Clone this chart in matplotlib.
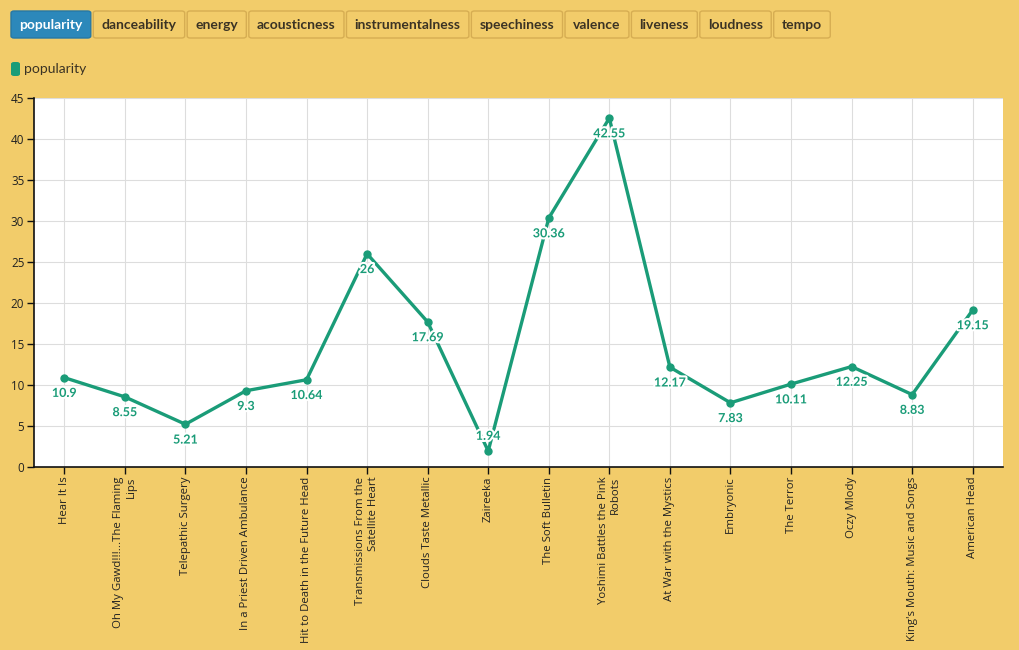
import matplotlib
matplotlib.use("Agg")
import matplotlib.pyplot as plt
import matplotlib.patheffects as pe
from matplotlib.patches import FancyBboxPatch

albums = ["Hear It Is", "Oh My Gawd!!!...The Flaming\nLips", "Telepathic Surgery",
          "In a Priest Driven Ambulance", "Hit to Death in the Future Head",
          "Transmissions From the\nSatellite Heart", "Clouds Taste Metallic", "Zaireeka",
          "The Soft Bulletin", "Yoshimi Battles the Pink\nRobots", "At War with the Mystics",
          "Embryonic", "The Terror", "Oczy Mlody", "King's Mouth: Music and Songs",
          "American Head"]
popularity = [10.9, 8.55, 5.21, 9.3, 10.64, 26, 17.69, 1.94, 30.36, 42.55,
              12.17, 7.83, 10.11, 12.25, 8.83, 19.15]
buttons = ["popularity", "danceability", "energy", "acousticness", "instrumentalness",
           "speechiness", "valence", "liveness", "loudness", "tempo"]

BG = "#f2cc6a"
GREEN = "#1a9c78"
TXT = "#3b3324"
W, H = 1020, 650

fig = plt.figure(figsize=(W / 100, H / 100), dpi=100, facecolor=BG)
ax = fig.add_axes([34 / W, 1 - 467 / H, (1003 - 34) / W, (467 - 98) / H])
ax.set_facecolor("white")

x = list(range(len(albums)))
ax.plot(x, popularity, color=GREEN, lw=2.4, marker="o", ms=5, zorder=3)
for xi, v in zip(x, popularity):
    dy = 11 if v < 3 else -11     # label above when too close to the floor
    ax.annotate(f"{v:g}", (xi, v), xytext=(0, dy), textcoords="offset points",
                ha="center", va="center", fontsize=9, fontweight="bold",
                family="Lato", color=GREEN, zorder=5,
                path_effects=[pe.withStroke(linewidth=3, foreground="white")])

ax.set_xlim(-0.5, len(albums) - 0.5)
ax.set_ylim(0, 45)
ax.set_yticks(range(0, 46, 5))
ax.set_xticks(x)
ax.set_xticklabels(albums, rotation=90, ha="center", va="top", multialignment="right",
                   family="Open Sans", fontsize=8.2, color="#222")
for lab in ax.get_yticklabels():
    lab.set_family("Open Sans")
    lab.set_fontsize(8.4)
    lab.set_color("#222")
ax.grid(True, color="#dddddd", lw=0.8, zorder=0)
ax.set_axisbelow(True)
for s in ["top", "right"]:
    ax.spines[s].set_visible(False)
for s in ["left", "bottom"]:
    ax.spines[s].set_color("#111")
    ax.spines[s].set_linewidth(1.2)
ax.tick_params(axis="both", length=5, width=1, color="#111", pad=2)

# buttons row
fig.canvas.draw()
r = fig.canvas.get_renderer()
bx = 11
for i, name in enumerate(buttons):
    active = i == 0
    t = fig.text(0, 0, name, fontsize=10, fontweight="bold", family="Lato",
                 color="white" if active else TXT, ha="left", va="center")
    tw = t.get_window_extent(r).width
    w = tw + 16.4
    t.set_position(((bx + 8.2) / W, 1 - 25 / H))
    fig.patches.append(FancyBboxPatch((bx / W, 1 - 38 / H), w / W, 27 / H,
                                      boxstyle="round,pad=0,rounding_size=0.003",
                                      transform=fig.transFigure,
                                      fc="#2c88ba" if active else BG,
                                      ec="#2678a5" if active else "#d6ad52", lw=1))
    bx += w + 2.5

# legend
fig.patches.append(FancyBboxPatch((11 / W, 1 - 76 / H), 9 / W, 14 / H,
                                  boxstyle="round,pad=0,rounding_size=0.003",
                                  transform=fig.transFigure, fc=GREEN, ec="none"))
fig.text(24 / W, 1 - 69 / H, "popularity", fontsize=10, family="Lato", color=TXT,
         ha="left", va="center")

fig.savefig("out.png", dpi=100, facecolor=BG)
